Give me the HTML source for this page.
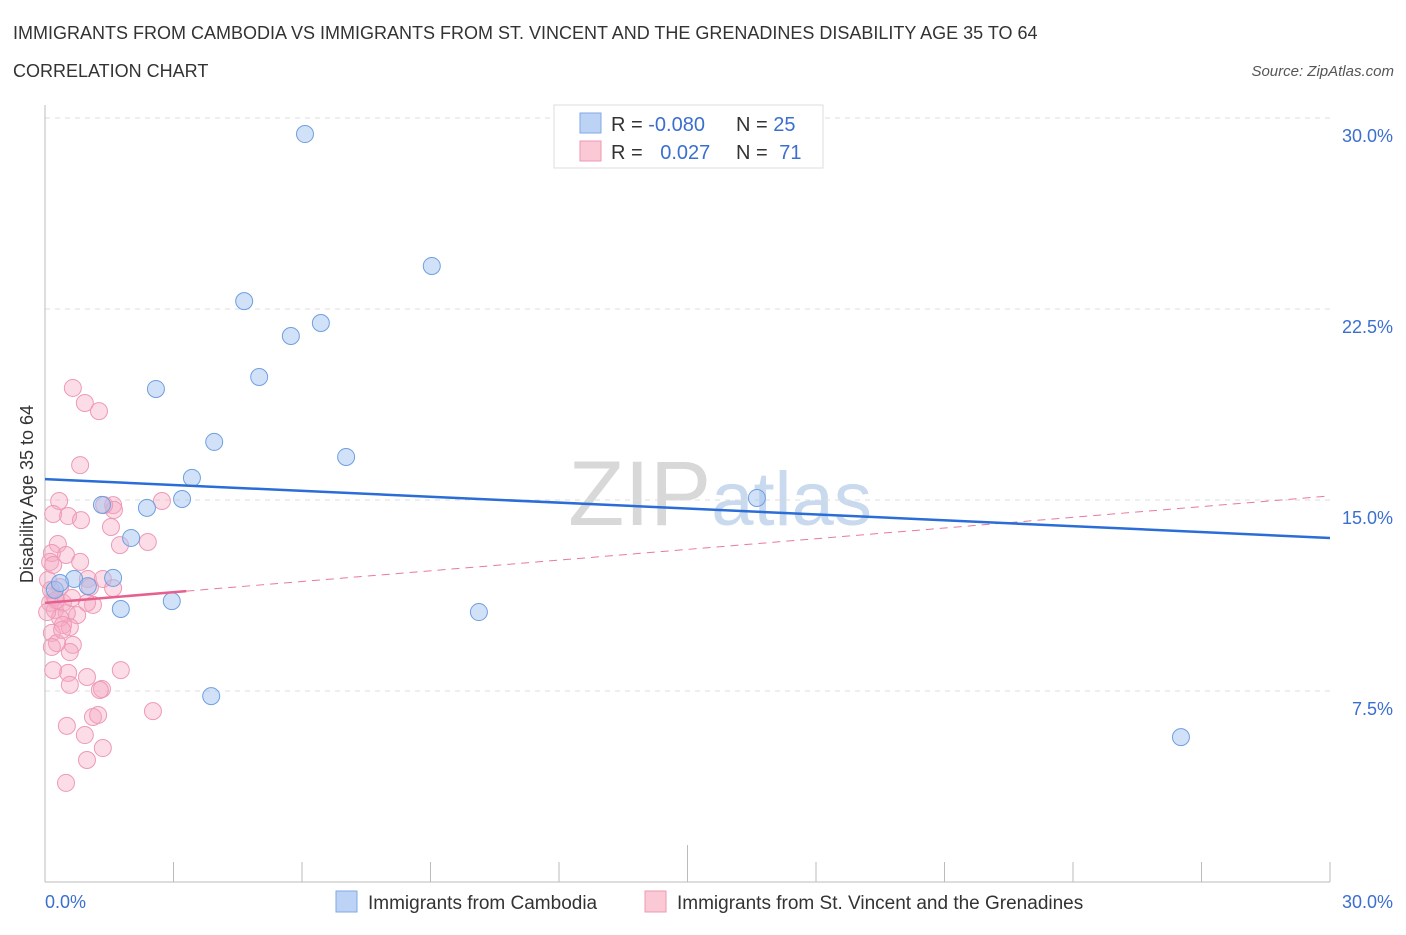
<!DOCTYPE html>
<html><head><meta charset="utf-8"><style>
body{margin:0;background:#fff;font-family:"Liberation Sans",sans-serif;}
svg text{font-family:"Liberation Sans",sans-serif;}
</style></head><body>
<svg id="chart" width="1406" height="930" xmlns="http://www.w3.org/2000/svg">
<text x="13" y="39" font-size="18" fill="#333">IMMIGRANTS FROM CAMBODIA VS IMMIGRANTS FROM ST. VINCENT AND THE GRENADINES DISABILITY AGE 35 TO 64</text>
<text x="13" y="77" font-size="18" fill="#333">CORRELATION CHART</text>
<text x="1394" y="76" font-size="15" fill="#555" font-style="italic" text-anchor="end">Source: ZipAtlas.com</text>
<text x="720" y="525" font-size="92" fill="#ddd" text-anchor="middle" font-family="Liberation Serif"><tspan fill="#d8d8d8">ZIP</tspan><tspan fill="#c9d9ee" font-family="Liberation Sans" font-size="76">atlas</tspan></text>
<g id="grid"></g><g id="axes"></g><g id="pts"></g><g id="trend"></g>
<text transform="translate(33,494) rotate(-90)" font-size="18" fill="#333" text-anchor="middle">Disability Age 35 to 64</text>
<g>
<rect x="554" y="105" width="269" height="63" fill="#fff" stroke="#ddd"/>
<rect x="580" y="113" width="21" height="20" fill="#bcd3f5" stroke="#7ea8e6"/>
<rect x="580" y="141" width="21" height="20" fill="#fbc8d6" stroke="#ee9ab3"/>
<text x="611" y="131" font-size="20" fill="#333">R = <tspan fill="#3a6fd0">-0.080</tspan></text>
<text x="736" y="131" font-size="20" fill="#333">N = <tspan fill="#3a6fd0">25</tspan></text>
<text x="611" y="159" font-size="20" fill="#333">R = <tspan fill="#3a6fd0" dx="12">0.027</tspan></text>
<text x="736" y="159" font-size="20" fill="#333">N = <tspan fill="#3a6fd0" dx="6">71</tspan></text>
</g>
<g>
<rect x="336" y="891" width="21" height="21" fill="#bcd3f5" stroke="#7ea8e6"/>
<text x="368" y="909" font-size="19" fill="#333">Immigrants from Cambodia</text>
<rect x="645" y="891" width="21" height="21" fill="#fbc8d6" stroke="#ee9ab3"/>
<text x="677" y="909" font-size="19" fill="#333">Immigrants from St. Vincent and the Grenadines</text>
</g>
</svg>
<script>
const yTicks=[7.5,15,22.5,30];
const yTickLabels=["7.5%","15.0%","22.5%","30.0%"];
const xTickLabels=["0.0%","30.0%"];
const blueX=[6.07,9.03,4.65,5.74,6.44,2.59,5.00,3.95,7.03,3.43,3.20,1.33,2.38,16.62,2.01,0.68,1.59,1.00,2.96,1.77,10.13,3.88,26.52,0.23,0.35];
const blueY=[29.37,24.19,22.81,21.44,21.95,19.36,19.83,17.28,16.69,15.87,15.04,14.81,14.69,15.08,13.51,11.90,11.94,11.62,11.03,10.72,10.60,7.30,5.69,11.47,11.74];
const pinkX=[0.65,0.93,1.26,0.82,0.33,0.19,0.54,0.84,1.59,1.61,1.38,1.54,1.75,2.40,2.73,0.30,0.49,0.16,0.12,0.19,1.00,1.35,1.59,1.12,0.75,0.35,0.23,0.42,0.12,0.23,0.51,0.35,0.58,0.42,0.16,0.65,0.58,0.28,0.16,0.19,0.54,0.58,0.98,1.33,1.77,1.12,1.24,2.52,0.51,0.93,1.35,0.98,0.49,1.05,0.98,0.82,0.07,0.14,0.26,0.05,0.40,1.28,0.63];
const pinkY=[19.40,18.81,18.49,16.37,14.96,14.45,14.37,14.21,14.80,14.61,14.80,13.94,13.23,13.35,14.96,13.27,12.84,12.92,12.57,12.45,11.90,11.90,11.54,10.88,10.48,11.58,11.19,10.96,10.96,10.68,10.56,10.37,10.01,10.09,9.78,9.31,9.03,9.38,9.23,8.32,8.21,7.74,8.05,7.58,8.32,6.48,6.56,6.71,6.13,5.77,5.26,4.79,3.89,11.58,10.96,12.57,11.86,11.47,11.07,10.60,9.90,7.54,11.15];
const blueTrend=[15.82,13.51];
const pinkTrend=[10.96,15.16];
const pinkSolidEnd=3.3;
const NS="http://www.w3.org/2000/svg";
const X0=45,X1=1330,Y0=882,Y1=118;
const sx=v=>X0+(v/30)*(X1-X0), sy=v=>Y0-(v/30)*(Y0-Y1);
function mk(tag,attrs,parent){const e=document.createElementNS(NS,tag);for(const k in attrs)e.setAttribute(k,attrs[k]);document.getElementById(parent).appendChild(e);return e;}
yTicks.forEach((t,i)=>{
 const g=mk('line',{x1:X0,x2:X1,y1:sy(t),y2:sy(t),stroke:'#ddd','stroke-dasharray':'5,5'},'grid');
 
 
 const l=mk('text',{x:1393,y:sy(t)+24,'font-size':18,fill:'#3a6fd0','text-anchor':'end'},'axes');
 l.textContent=yTickLabels[i];
 
 
});
let a=mk('line',{x1:X0,x2:X0,y1:105,y2:Y0,stroke:'#bbb'},'axes');


a=mk('line',{x1:X0,x2:X1,y1:Y0,y2:Y0,stroke:'#bbb'},'axes');


for(let i=0;i<=10;i++){const v=i*3;const t=mk('line',{x1:sx(v),x2:sx(v),y1:i==5?845:862,y2:Y0,stroke:'#bbb'},'axes');
 
 }
[[0,'start'],[30,'end']].forEach((p,i)=>{const t=mk('text',{x:i?1393:45,y:908,'font-size':18,fill:'#3a6fd0','text-anchor':p[1]},'axes');t.textContent=xTickLabels[i];
 
 });
pinkX.forEach((x,i)=>{const c=mk('circle',{cx:sx(x),cy:sy(pinkY[i]),r:8.5,fill:'rgba(246,168,194,0.4)',stroke:'#ee9ab5','stroke-width':1},'pts');
 
 });
blueX.forEach((x,i)=>{const c=mk('circle',{cx:sx(x),cy:sy(blueY[i]),r:8.5,fill:'rgba(164,196,240,0.5)',stroke:'#6f9fe0','stroke-width':1},'pts');
 
 });
const pAt=v=>pinkTrend[0]+(pinkTrend[1]-pinkTrend[0])*v/30;
let tl=mk('line',{x1:sx(pinkSolidEnd),y1:sy(pAt(pinkSolidEnd)),x2:sx(30),y2:sy(pinkTrend[1]),stroke:'#e8799f','stroke-width':1,'stroke-dasharray':'8,6'},'trend');


tl=mk('line',{x1:sx(0),y1:sy(pinkTrend[0]),x2:sx(pinkSolidEnd),y2:sy(pAt(pinkSolidEnd)),stroke:'#e65f8e','stroke-width':2.5},'trend');


tl=mk('line',{x1:sx(0),y1:sy(blueTrend[0]),x2:sx(30),y2:sy(blueTrend[1]),stroke:'#2a6dd6','stroke-width':2.5},'trend');


</script>
</body></html>
